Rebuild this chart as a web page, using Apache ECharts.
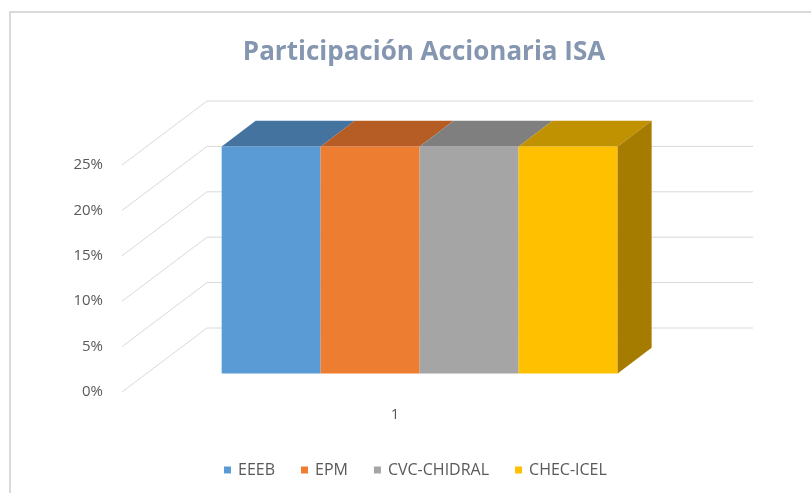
<!DOCTYPE html>
<html>
<head>
<meta charset="utf-8">
<script src="https://cdn.jsdelivr.net/npm/echarts@6/dist/echarts.min.js"></script>
<style>
  html, body { margin: 0; padding: 0; background: #fff; }
  #chart { width: 811px; height: 493px; }
</style>
</head>
<body>
<div id="chart"></div>
<script>
// datos
const categories = ['1']
const companies = ['EEEB', 'EPM', 'CVC-CHIDRAL', 'CHEC-ICEL']
const shares = [25, 25, 25, 25] // % de participación
const yTicks = [0, 5, 10, 15, 20, 25]

// colores: frente, tapa, lado
const frontColors = ['#5b9bd5', '#ed7d31', '#a5a5a5', '#ffc000']
const topColors = ['#44739f', '#b55d24', '#7f7f7f', '#c09100']
const sideColors = ['#3b6489', '#9c501f', '#6e6e6e', '#a67c00']

const DEPTH = [85, -64]   // desplazamiento de la pared del fondo
const BAR_FRONT = 0.29    // profundidad del frente de la barra
const BAR_BACK = 0.69     // profundidad del fondo de la barra
const BAR_RATIO = 0.1813  // ancho de cada barra respecto a la categoría

const chart = echarts.init(document.getElementById('chart'))

// paredes: líneas diagonales a la izquierda y líneas del fondo
function renderWall(params, api) {
    const cs = params.coordSys
    const p = api.coord([api.value(0), api.value(1)])
    const x = cs.x
    return {
        type: 'polyline',
        shape: {
            points: [
                [x, p[1]],
                [x + DEPTH[0], p[1] + DEPTH[1]],
                [x + cs.width + DEPTH[0], p[1] + DEPTH[1]]
            ]
        },
        style: { stroke: '#d9d9d9', lineWidth: 1, fill: null },
        silent: true
    }
}

function makeBarRenderer(index) {
    return function (params, api) {
        const top = api.coord([api.value(0), api.value(1)])
        const base = api.coord([api.value(0), 0])
        const band = api.size([1, 0])[0]
        const w = band * BAR_RATIO
        const x0 = top[0] + (index - companies.length / 2) * w
        const x1 = x0 + w
        const fx = DEPTH[0] * BAR_FRONT, fy = DEPTH[1] * BAR_FRONT
        const bx = DEPTH[0] * BAR_BACK, by = DEPTH[1] * BAR_BACK
        const children = [
            {
                type: 'polygon',
                shape: { points: [[x0 + fx, top[1] + fy], [x1 + fx, top[1] + fy], [x1 + bx, top[1] + by], [x0 + bx, top[1] + by]] },
                style: { fill: topColors[index] }
            },
            {
                type: 'rect',
                shape: { x: x0 + fx, y: top[1] + fy, width: w, height: base[1] - top[1] },
                style: { fill: frontColors[index] }
            }
        ]
        if (index === companies.length - 1) {
            children.push({
                type: 'polygon',
                shape: { points: [[x1 + fx, top[1] + fy], [x1 + bx, top[1] + by], [x1 + bx, base[1] + by], [x1 + fx, base[1] + fy]] },
                style: { fill: sideColors[index] }
            })
        }
        return { type: 'group', children: children }
    }
}

const barSeries = companies.map((name, i) => {
    return {
        type: 'custom',
        name: name,
        clip: false,
        renderItem: makeBarRenderer(i),
        itemStyle: { color: frontColors[i] },
        encode: { x: 0, y: 1 },
        data: [[0, shares[i]]],
        z: 3
    }
})

const option = {
    animation: false,
    textStyle: { fontFamily: 'Open Sans' },
    graphic: [
        {
            type: 'rect',
            shape: { x: 10, y: 12, width: 900, height: 600 },
            style: { fill: null, stroke: '#d9d9d9', lineWidth: 2 },
            silent: true
        }
    ],
    title: {
        text: 'Participación Accionaria ISA',
        left: 419,
        top: 35,
        textAlign: 'center',
        textStyle: { color: '#8496b0', fontSize: 26, fontWeight: 'bold', fontFamily: 'Open Sans' }
    },
    legend: {
        data: companies,
        left: 219,
        top: 457,
        icon: 'rect',
        itemWidth: 7,
        itemHeight: 7,
        itemGap: 26,
        textStyle: { color: '#595959', fontSize: 16, fontFamily: 'Open Sans', padding: [0, 0, 0, 2] }
    },
    grid: { left: 122, right: 143, top: 165, bottom: 101 },
    xAxis: {
        type: 'category',
        data: categories,
        axisLine: { show: false },
        axisTick: { show: false },
        axisLabel: { color: '#595959', fontSize: 15, margin: 15 }
    },
    yAxis: {
        type: 'value',
        min: 0,
        max: 25,
        interval: 5,
        splitLine: { show: false },
        axisLine: { show: false },
        axisTick: { show: false },
        axisLabel: { color: '#595959', fontSize: 15, margin: 19, formatter: '{value}%' }
    },
    series: [
        {
            type: 'custom',
            name: 'walls',
            clip: false,
            silent: true,
            renderItem: renderWall,
            encode: { x: 0, y: 1 },
            data: yTicks.map(t => [0, t]),
            z: 1
        }
    ].concat(barSeries)
}

chart.setOption(option)
</script>
</body>
</html>
